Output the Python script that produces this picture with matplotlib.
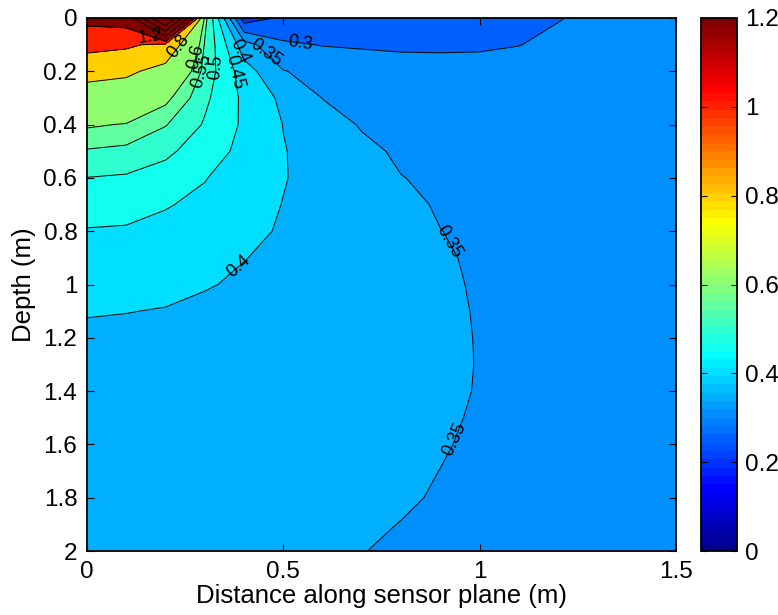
import numpy as np
import matplotlib
matplotlib.use("Agg")
import matplotlib.pyplot as plt
from matplotlib.colors import ListedColormap, Normalize
from matplotlib.cm import ScalarMappable
from matplotlib.ticker import FormatStrFormatter

plt.rcParams["font.family"] = ["Liberation Sans", "DejaVu Sans"]

# Grid coordinates (m)
distance = [0.0, 0.1, 0.2, 0.3, 0.4, 0.5, 0.6, 0.7, 0.8, 0.9, 1.0, 1.1, 1.2, 1.3, 1.4, 1.5]
depth = [0.0, 0.1, 0.2, 0.3, 0.4, 0.5, 0.6, 0.7, 0.8, 0.9, 1.0,
         1.1, 1.2, 1.3, 1.4, 1.5, 1.6, 1.7, 1.8, 1.9, 2.0]

# Field values, one row per depth, one column per distance
field = [
    [1.26, 1.30, 3.00, 0.57, 0.22, 0.26, 0.27, 0.275, 0.278, 0.28, 0.282, 0.285, 0.298, 0.31, 0.315, 0.318],
    [1.06, 1.032, 0.95, 0.545, 0.37, 0.307, 0.298, 0.295, 0.293, 0.293, 0.294, 0.299, 0.31, 0.315, 0.318, 0.32],
    [0.87, 0.834, 0.736, 0.53, 0.423, 0.352, 0.335, 0.325, 0.318, 0.316, 0.316, 0.318, 0.322, 0.325, 0.327, 0.328],
    [0.70, 0.69, 0.617, 0.51, 0.44, 0.389, 0.349, 0.34, 0.335, 0.332, 0.33, 0.33, 0.331, 0.332, 0.333, 0.333],
    [0.608, 0.596, 0.553, 0.495, 0.442, 0.399, 0.3724, 0.346, 0.34, 0.336, 0.334, 0.333, 0.333, 0.334, 0.334, 0.334],
    [0.545, 0.536, 0.51, 0.475, 0.436, 0.402, 0.382, 0.361, 0.343, 0.338, 0.336, 0.335, 0.335, 0.335, 0.335, 0.335],
    [0.499, 0.494, 0.48, 0.452, 0.427, 0.402, 0.3856, 0.3693, 0.351, 0.343, 0.339, 0.337, 0.336, 0.336, 0.336, 0.336],
    [0.471, 0.467, 0.453, 0.44, 0.416, 0.399, 0.386, 0.373, 0.36, 0.346, 0.341, 0.339, 0.338, 0.337, 0.337, 0.337],
    [0.447, 0.445, 0.438, 0.43, 0.41, 0.396, 0.385, 0.373, 0.362, 0.3505, 0.343, 0.34, 0.339, 0.338, 0.338, 0.338],
    [0.433, 0.431, 0.425, 0.418, 0.401, 0.391, 0.382, 0.373, 0.3635, 0.354, 0.345, 0.341, 0.339, 0.338, 0.338, 0.338],
    [0.418, 0.417, 0.411, 0.403, 0.394, 0.3866, 0.3787, 0.3708, 0.3629, 0.355, 0.347, 0.343, 0.341, 0.34, 0.339, 0.339],
    [0.402, 0.401, 0.398, 0.391, 0.385, 0.379, 0.3727, 0.3667, 0.3606, 0.3545, 0.3485, 0.345, 0.343, 0.341, 0.34, 0.34],
    [0.394, 0.3895, 0.385, 0.3806, 0.3761, 0.3716, 0.3671, 0.3626, 0.3582, 0.3537, 0.3492, 0.346, 0.344, 0.342, 0.341, 0.34],
    [0.389, 0.385, 0.381, 0.377, 0.373, 0.369, 0.365, 0.3613, 0.3573, 0.3534, 0.3494, 0.346, 0.344, 0.342, 0.341, 0.34],
    [0.383, 0.3796, 0.3763, 0.3729, 0.3695, 0.3662, 0.3628, 0.3594, 0.3561, 0.3527, 0.3493, 0.346, 0.344, 0.342, 0.341, 0.34],
    [0.378, 0.3751, 0.3722, 0.3692, 0.3663, 0.3634, 0.3605, 0.3576, 0.3546, 0.3517, 0.3488, 0.3455, 0.3435, 0.342, 0.341, 0.34],
    [0.373, 0.3705, 0.3681, 0.3656, 0.3631, 0.3607, 0.3582, 0.3557, 0.3533, 0.3508, 0.3483, 0.3455, 0.3435, 0.342, 0.341, 0.34],
    [0.369, 0.3669, 0.3648, 0.3627, 0.3605, 0.3584, 0.3563, 0.3542, 0.3521, 0.3499, 0.348, 0.3455, 0.3435, 0.342, 0.341, 0.34],
    [0.366, 0.3641, 0.3623, 0.3604, 0.3585, 0.3567, 0.3548, 0.3529, 0.3511, 0.3492, 0.3475, 0.3455, 0.3435, 0.342, 0.341, 0.34],
    [0.363, 0.3613, 0.3597, 0.358, 0.3564, 0.3547, 0.3531, 0.3514, 0.3498, 0.3481, 0.3465, 0.345, 0.3435, 0.342, 0.341, 0.34],
    [0.36, 0.3586, 0.3572, 0.3558, 0.3544, 0.353, 0.3516, 0.3502, 0.3488, 0.3474, 0.346, 0.3445, 0.343, 0.342, 0.341, 0.34],
]

# Contour levels and colour range
levels = [0.2, 0.25, 0.3, 0.35, 0.4, 0.45, 0.5, 0.55, 0.6, 0.8, 1.0, 1.2, 1.6, 2.0, 2.4, 3.2]
colour_min, colour_max = 0.0, 1.2
colourbar_ticks = [0, 0.2, 0.4, 0.6, 0.8, 1.0, 1.2]
x_ticks = [0, 0.5, 1.0, 1.5]
y_ticks = [0, 0.2, 0.4, 0.6, 0.8, 1.0, 1.2, 1.4, 1.6, 1.8, 2.0]

# Where each contour gets its value label (distance, depth)
label_spots = {
    0.3: [(0.542, 0.10)],
    0.35: [(0.446, 0.146), (0.907, 0.852), (0.907, 1.565)],
    0.4: [(0.402, 0.116), (0.385, 0.927)],
    0.45: [(0.368, 0.204)],
    0.5: [(0.334, 0.184)],
    0.55: [(0.296, 0.20)],
    0.6: [(0.275, 0.146)],
    0.8: [(0.237, 0.11)],
    1.2: [(0.166, 0.053)],
}


def jet64(m=64):
    """Classic 64-step jet table."""
    n = int(np.ceil(m / 4))
    u = np.r_[np.arange(1, n + 1) / n, np.ones(n - 1), np.arange(n, 0, -1) / n]
    g = int(np.ceil(n / 2)) - int(m % 4 == 1) + np.arange(1, len(u) + 1)
    r = g + n
    b = g - n
    table = np.zeros((m, 3))
    for idx, col in ((r, 0), (g, 1), (b, 2)):
        ok = (idx >= 1) & (idx <= m)
        table[idx[ok] - 1, col] = u[ok]
    return table


jet_table = jet64(64)
cmap = ListedColormap(jet_table)
norm = Normalize(colour_min, colour_max)

# Each filled band takes the colour of its lower bounding level
band_colours = []
for lev in levels[:-1]:
    k = int(np.floor((lev - colour_min) / (colour_max - colour_min) * len(jet_table)))
    k = min(max(k, 0), len(jet_table) - 1)
    band_colours.append(jet_table[k])

X, Y = np.meshgrid(distance, depth)
Z = np.array(field)

fig = plt.figure(figsize=(7.78, 6.15), dpi=100)
W, H = 778.0, 615.0
ax = fig.add_axes([87 / W, 1 - 551 / H, (676 - 87) / W, (551 - 18) / H])
cax = fig.add_axes([701 / W, 1 - 551 / H, 36 / W, (551 - 18) / H])

ax.contourf(X, Y, Z, levels=levels, colors=band_colours)
cs = ax.contour(X, Y, Z, levels=levels, colors="k", linewidths=0.7)

ax.set_xlim(0, 1.5)
ax.set_ylim(2, 0)


def label_contour(level, spot):
    """Write the level value on its contour, aligned with the line near spot."""
    segs = cs.allsegs[levels.index(level)]
    target = ax.transData.transform(spot)
    best = None
    for seg in segs:
        if len(seg) < 2:
            continue
        pix = ax.transData.transform(seg)
        d = np.hypot(pix[:, 0] - target[0], pix[:, 1] - target[1])
        i = int(np.argmin(d))
        if best is None or d[i] < best[0]:
            best = (d[i], pix, i)
    _, pix, i = best
    j0, j1 = max(i - 1, 0), min(i + 1, len(pix) - 1)
    dx, dy = pix[j1] - pix[j0]
    ang = np.degrees(np.arctan2(dy, dx))
    if ang > 90:
        ang -= 180
    elif ang < -90:
        ang += 180
    # point on the polyline closest to the spot
    cand = []
    for a, b in ((j0, i), (i, j1)):
        p, q = pix[a], pix[b]
        v = q - p
        L = v @ v
        t = 0.0 if L == 0 else np.clip((target - p) @ v / L, 0, 1)
        c = p + t * v
        cand.append((np.hypot(*(c - target)), c))
    pos = min(cand, key=lambda c: c[0])[1]
    xy = ax.transData.inverted().transform(pos)
    ax.text(xy[0], xy[1], f"{level:g}", fontsize=13, rotation=ang,
            rotation_mode="anchor", ha="center", va="center", zorder=5)


for lev, spots in label_spots.items():
    for spot in spots:
        label_contour(lev, spot)

ax.set_xticks(x_ticks)
ax.set_yticks(y_ticks)
ax.xaxis.set_major_formatter(FormatStrFormatter("%g"))
ax.yaxis.set_major_formatter(FormatStrFormatter("%g"))
ax.tick_params(direction="in", top=True, right=True, length=5, width=0.8,
               labelsize=17.5, pad=7)
for s in ax.spines.values():
    s.set_linewidth(1.3)
ax.set_xlabel("Distance along sensor plane (m)", fontsize=18.5, labelpad=1)
ax.set_ylabel("Depth (m)", fontsize=18.5, labelpad=5)

sm = ScalarMappable(norm=norm, cmap=cmap)
cb = fig.colorbar(sm, cax=cax, ticks=colourbar_ticks)
cb.ax.yaxis.set_major_formatter(FormatStrFormatter("%g"))
cax.tick_params(direction="in", left=True, right=True, length=4, width=0.8,
                labelsize=17.5, pad=6)
cb.outline.set_linewidth(1.3)

fig.savefig("out.png", dpi=100)
